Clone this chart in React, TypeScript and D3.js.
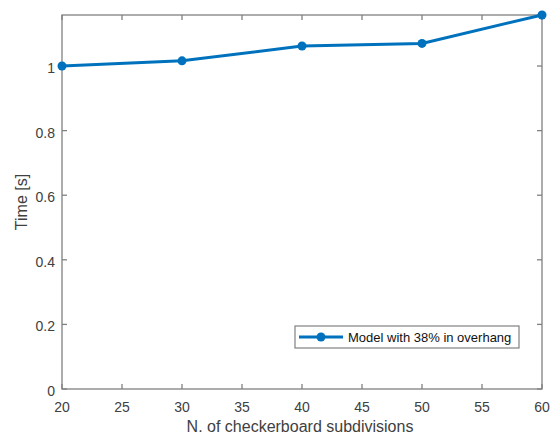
import React from "react";
import * as d3 from "d3";

const subdivisions = [20, 30, 40, 50, 60];
const timeValues = [1.0, 1.016, 1.062, 1.07, 1.158];
const xTicks = [20, 25, 30, 35, 40, 45, 50, 55, 60];
const yTicks = [0, 0.2, 0.4, 0.6, 0.8, 1];
const seriesName = "Model with 38% in overhang";

export default function App() {
  const W = 551, H = 440;
  const left = 62, right = 542, top = 15, bottom = 389;
  const x = d3.scaleLinear().domain([20, 60]).range([left, right]);
  const y = d3.scaleLinear().domain([0, 1.158]).range([bottom, top]);
  const line = d3.line<number>().x((_, i) => x(subdivisions[i])).y((d) => y(d));
  const axisColor = "#808080";
  const textColor = "#404040";
  const blue = "#0072BD";
  const font = "Liberation Sans, Arial, sans-serif";
  const tl = 5;
  return (
    <svg width={W} height={H} style={{ position: "absolute", left: 0, top: 0, background: "#fff" }}>
      <rect x={0} y={0} width={W} height={H} fill="#fff" />
      <rect x={left} y={top} width={right - left} height={bottom - top} fill="none" stroke={axisColor} strokeWidth={1.3} />
      {xTicks.map((t) => (
        <g key={"x" + t}>
          <line x1={x(t)} x2={x(t)} y1={bottom} y2={bottom - tl} stroke={axisColor} strokeWidth={1.3} />
          <line x1={x(t)} x2={x(t)} y1={top} y2={top + tl} stroke={axisColor} strokeWidth={1.3} />
          <text x={x(t)} y={bottom + 23} textAnchor="middle" fontSize={14} fill={textColor} fontFamily={font}>{t}</text>
        </g>
      ))}
      {yTicks.map((t) => (
        <g key={"y" + t}>
          <line x1={left} x2={left + tl} y1={y(t)} y2={y(t)} stroke={axisColor} strokeWidth={1.3} />
          <line x1={right} x2={right - tl} y1={y(t)} y2={y(t)} stroke={axisColor} strokeWidth={1.3} />
          <text x={left - 7} y={y(t) + 7} textAnchor="end" fontSize={14} fill={textColor} fontFamily={font}>{t}</text>
        </g>
      ))}
      <text x={300} y={432} textAnchor="middle" fontSize={16} fill={textColor} fontFamily={font}>N. of checkerboard subdivisions</text>
      <text transform={`translate(27, ${(top + bottom) / 2}) rotate(-90)`} textAnchor="middle" fontSize={16} fill={textColor} fontFamily={font}>Time [s]</text>
      <path d={line(timeValues) || ""} fill="none" stroke={blue} strokeWidth={3} />
      {timeValues.map((v, i) => (
        <circle key={i} cx={x(subdivisions[i])} cy={y(v)} r={4.5} fill={blue} />
      ))}
      <g>
        <rect x={295} y={326} width={224} height={22} fill="#fff" stroke={axisColor} strokeWidth={1.2} />
        <line x1={299} x2={343} y1={337} y2={337} stroke={blue} strokeWidth={3} />
        <circle cx={321} cy={337} r={4.5} fill={blue} />
        <text x={348} y={342} fontSize={13} fill="#111" fontFamily={font}>{seriesName}</text>
      </g>
    </svg>
  );
}
